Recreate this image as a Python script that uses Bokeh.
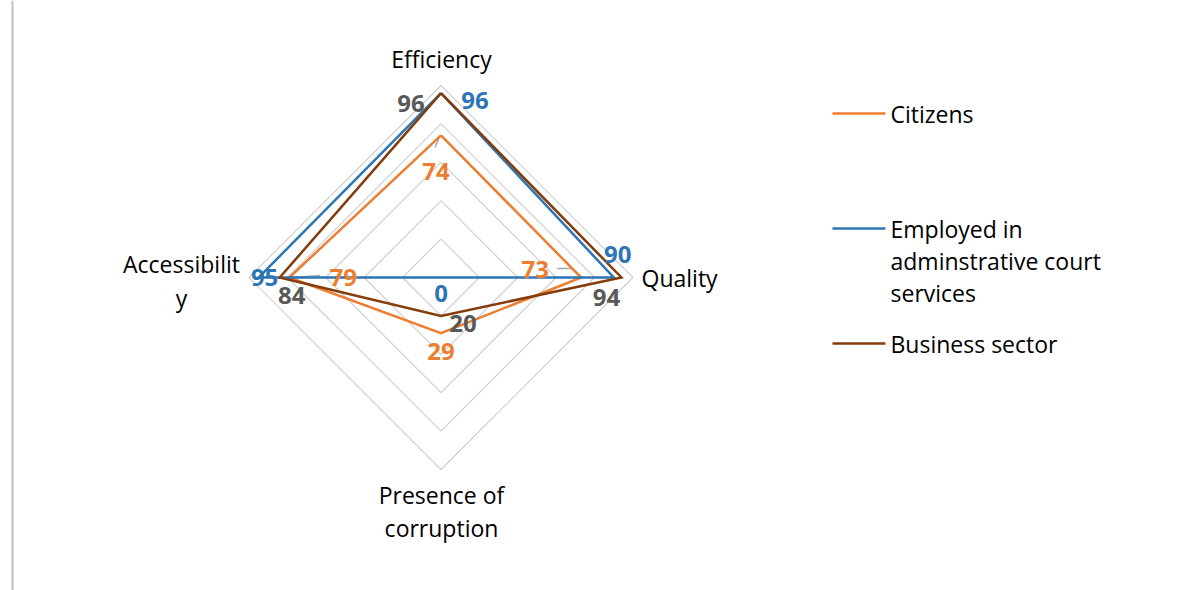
import numpy as np
from bokeh.plotting import figure
from bokeh.models import Range1d, Span
from bokeh.core.properties import value
from bokeh.embed import file_html
from bokeh.resources import INLINE

# ---- data ----
categories = ["Efficiency", "Quality", "Presence of corruption", "Accessibility"]
series_names = ["Citizens", "Employed in adminstrative court services", "Business sector"]
citizens = [74, 73, 29, 79]
employed = [96, 90, 0, 95]
business = [96, 94, 20, 84]
grid_levels = [20, 40, 60, 80, 100]

# ---- layout constants ----
W, H = 1200, 590
S = 1.92            # pixels per unit
CX, CY = 440.5, 277  # centre in figure pixels
FONT = "Open Sans"

x0 = -CX / S
y1 = CY / S
p = figure(width=W, height=H, output_backend="svg", toolbar_location=None,
           x_range=Range1d(x0, x0 + W / S), y_range=Range1d(y1 - H / S, y1),
           min_border=0, outline_line_color=None)
p.axis.visible = False
p.grid.visible = False

def px(xp, yp):
    """figure pixel -> data coords"""
    return xp / S + x0, y1 - yp / S

angles = np.deg2rad([90, 0, -90, 180])  # Efficiency top, Quality right, Corruption bottom, Accessibility left

def pts(vals):
    v = np.array(vals, dtype=float)
    return list(v * np.cos(angles)), list(v * np.sin(angles))

# left frame line
p.add_layout(Span(location=px(12, 0)[0], dimension="height", line_color="#bfbfbf", line_width=2))

# grid diamonds
for lv in grid_levels:
    gx, gy = pts([lv] * 4)
    p.line(gx + gx[:1], gy + gy[:1], line_color="#d0d0d0", line_width=1.2)

colors = ["#ED7D31", "#2E75B6", "#843C0C"]
label_colors = ["#ED7D31", "#2E75B6", "#595959"]
data = [citizens, employed, business]

# leader lines (citizens labels)
cxs, cys = pts(citizens)
leaders = [
    (0, [(-1, 0), (-6, 12)]),
    (1, [(0, 0), (-9, -9), (-24, -9)]),
    (3, [(2, 0), (31, -2)]),
]
for idx, offs in leaders:
    lx = [cxs[idx] + o[0] / S for o in offs]
    ly = [cys[idx] - o[1] / S for o in offs]
    p.line(lx, ly, line_color="#a6a6a6", line_width=1.5)

for vals, c in zip(data, colors):
    sx, sy = pts(vals)
    p.line(sx + sx[:1], sy + sy[:1], line_color=c, line_width=2.5, line_join="miter")

# data labels: pixel offsets (dx, dy down) per series per category
offsets = [
    [(-5, 36), (-46, -8), (0, 18), (54, 0)],
    [(34, 7), (4, -23), (0, 16), (6, 0)],
    [(-30, 10), (-15, 20), (22, 8), (12, 18)],
]
for vals, lc, offs in zip(data, label_colors, offsets):
    sx, sy = pts(vals)
    tx = [sx[i] + offs[i][0] / S for i in range(4)]
    ty = [sy[i] - offs[i][1] / S for i in range(4)]
    p.text(tx, ty, text=[str(v) for v in vals], text_color=lc,
           text_font=value(FONT), text_font_size=value("24px"), text_font_style="bold",
           text_align="center", text_baseline="middle")

# category labels
cat_font = dict(text_font=value(FONT), text_font_size=value("23px"), text_color="#000000",
                text_baseline="middle")
ex, ey = px(CX + 0.5, 58)
p.text([ex], [ey], text=["Efficiency"], text_align="center", **cat_font)
qx, qy = px(641, CY)
p.text([qx], [qy], text=["Quality"], text_align="left", **cat_font)
ax_, ay1 = px(181, 263)
_, ay2 = px(181, 297)
p.text([ax_, ax_], [ay1, ay2], text=["Accessibilit", "y"], text_align="center", **cat_font)
bx, by1 = px(CX + 0.5, 494)
_, by2 = px(CX + 0.5, 527)
p.text([bx, bx], [by1, by2], text=["Presence of", "corruption"], text_align="center", **cat_font)

# legend
leg_y = [113, 228, 343]
leg_text = [["Citizens"], ["Employed in", "adminstrative court", "services"], ["Business sector"]]
for yy, c, lines in zip(leg_y, colors, leg_text):
    lxa, lya = px(832, yy)
    lxb, _ = px(885, yy)
    p.line([lxa, lxb], [lya, lya], line_color=c, line_width=2.5)
    tx, _ = px(890, yy)
    tys = [px(0, yy + 32 * k)[1] for k in range(len(lines))]
    p.text([tx] * len(lines), tys, text=lines, text_align="left", **cat_font)

open("out.html", "w").write(file_html(p, INLINE))
